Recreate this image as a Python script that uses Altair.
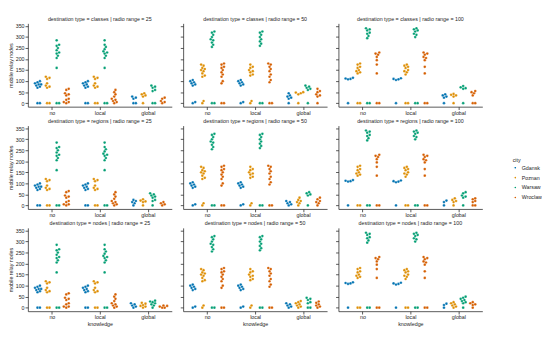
import altair as alt
import pandas as pd

CITIES = ["Gdansk", "Poznan", "Warsaw", "Wroclaw"]
COLORS = ["#0173b2", "#de8f05", "#029e73", "#d55e00"]
KNOWLEDGE = ["no", "local", "global"]
DESTS = ["classes", "regions", "nodes"]
RADIOS = [25, 50, 100]

# knowledge = no / local (nearly identical for all destination types)
R25_NO = {
    "Gdansk": [0, 0, 70, 75, 80, 85, 85, 90, 95, 100],
    "Poznan": [0, 0, 70, 75, 80, 90, 110, 115, 120],
    "Warsaw": [0, 0, 160, 205, 215, 225, 230, 240, 250, 260, 265, 285],
    "Wroclaw": [0, 5, 5, 15, 20, 35, 40, 45, 60, 65],
}
R25_LOCAL = {
    "Gdansk": [0, 0, 70, 75, 80, 85, 90, 95, 100],
    "Poznan": [0, 0, 70, 75, 80, 90, 110, 115, 120],
    "Warsaw": [0, 0, 160, 205, 215, 225, 230, 235, 245, 255, 265, 285],
    "Wroclaw": [0, 5, 10, 15, 20, 30, 40, 50, 60],
}
R50_NO = {
    "Gdansk": [0, 5, 80, 85, 90, 95, 100, 105],
    "Poznan": [0, 10, 120, 125, 135, 145, 150, 155, 160, 170, 175],
    "Warsaw": [0, 0, 255, 265, 275, 285, 290, 300, 310, 320, 325],
    "Wroclaw": [0, 0, 90, 100, 120, 130, 140, 150, 160, 165, 175, 180],
}
R50_LOCAL = {
    "Gdansk": [0, 5, 80, 85, 90, 95, 100, 105],
    "Poznan": [0, 10, 125, 130, 140, 145, 150, 160, 165, 175],
    "Warsaw": [0, 0, 260, 270, 280, 290, 300, 310, 320, 325],
    "Wroclaw": [0, 0, 95, 105, 120, 130, 145, 155, 165, 175, 180],
}
R100_NO = {
    "Gdansk": [0, 108, 110, 112, 115],
    "Poznan": [0, 0, 135, 140, 145, 150, 160, 165, 175, 180],
    "Warsaw": [0, 0, 295, 305, 315, 320, 330, 335, 340],
    "Wroclaw": [0, 0, 135, 175, 195, 210, 220, 225, 230],
}
R100_LOCAL = {
    "Gdansk": [0, 105, 108, 110, 113],
    "Poznan": [0, 0, 130, 140, 145, 150, 160, 165, 170, 175],
    "Warsaw": [0, 0, 300, 310, 315, 325, 330, 335, 340],
    "Wroclaw": [0, 0, 135, 165, 195, 205, 210, 220, 225, 230],
}

# knowledge = global, per destination type
CLASSES_GLOBAL = {
    25: {"Gdansk": [0, 0, 20, 25, 30], "Poznan": [0, 30, 35, 40, 45],
         "Warsaw": [0, 0, 55, 60, 70, 75, 80], "Wroclaw": [0, 5, 10, 20, 25]},
    50: {"Gdansk": [0, 20, 25, 30, 35, 45], "Poznan": [0, 40, 45, 48, 50],
         "Warsaw": [0, 60, 65, 70, 75, 80], "Wroclaw": [0, 30, 35, 40, 50, 55, 65]},
    100: {"Gdansk": [0, 25, 30, 35, 40], "Poznan": [0, 30, 35, 38, 42],
          "Warsaw": [0, 65, 68, 72, 78], "Wroclaw": [0, 0, 35, 45, 50, 55]},
}
REGIONS_GLOBAL = {
    25: {"Gdansk": [0, 10, 15, 20, 25], "Poznan": [0, 15, 18, 22, 28],
         "Warsaw": [0, 20, 25, 35, 40, 45, 50, 55], "Wroclaw": [0, 5, 10, 15]},
    50: {"Gdansk": [0, 5, 10, 15, 20], "Poznan": [0, 10, 15, 20, 25, 35],
         "Warsaw": [0, 45, 50, 55, 60], "Wroclaw": [0, 10, 15, 20, 28, 35]},
    100: {"Gdansk": [0, 15, 22], "Poznan": [0, 15, 20, 25, 32],
          "Warsaw": [0, 35, 40, 45, 55, 60], "Wroclaw": [0, 0, 15, 20, 28, 32]},
}
NODES_GLOBAL = {
    25: {"Gdansk": [0, 5, 10, 15, 20], "Poznan": [0, 5, 8, 12, 18, 22],
         "Warsaw": [0, 10, 15, 20, 25, 28, 32], "Wroclaw": [0, 0, 5, 8, 10]},
    50: {"Gdansk": [0, 5, 10, 15, 20], "Poznan": [0, 5, 10, 15, 20, 25, 30],
         "Warsaw": [0, 0, 20, 25, 35, 40, 45], "Wroclaw": [0, 5, 10, 15, 22, 28]},
    100: {"Gdansk": [0, 12, 18], "Poznan": [0, 5, 10, 15, 20, 25],
          "Warsaw": [0, 20, 25, 30, 35, 40, 45, 50], "Wroclaw": [0, 12, 15, 20, 25]},
}

NO_BY_RADIO = {25: R25_NO, 50: R50_NO, 100: R100_NO}
LOCAL_BY_RADIO = {25: R25_LOCAL, 50: R50_LOCAL, 100: R100_LOCAL}
GLOBAL_BY_DEST = {"classes": CLASSES_GLOBAL, "regions": REGIONS_GLOBAL, "nodes": NODES_GLOBAL}

W, H = 152, 88
YDOM = [-16, 362]
PX_X = W / 3.0
PX_Y = H / (YDOM[1] - YDOM[0])
DIAM = 2.6


def swarm(vals):
    """Beeswarm horizontal offsets (in x data units) for one group."""
    placed = []
    out = []
    for v in sorted(vals):
        yp = v * PX_Y
        cands = [0.0]
        for i in range(1, 30):
            cands += [i * DIAM * 0.5, -i * DIAM * 0.5]
        for c in cands:
            if all((c - px) ** 2 + (yp - py) ** 2 >= (DIAM * 0.9) ** 2 for px, py in placed):
                placed.append((c, yp))
                out.append((v, c / PX_X))
                break
    return out


rows = []
for d in DESTS:
    for r in RADIOS:
        groups = {"no": NO_BY_RADIO[r], "local": LOCAL_BY_RADIO[r], "global": GLOBAL_BY_DEST[d][r]}
        for ki, k in enumerate(KNOWLEDGE):
            for ci, c in enumerate(CITIES):
                for v, off in swarm(groups[k][c]):
                    rows.append({"dest": d, "radio": r, "knowledge": k, "city": c,
                                 "value": v, "xpos": ki + (ci - 1.5) * 0.2 + off})
df = pd.DataFrame(rows)

FONT = "Liberation Sans"
FS = 5.6


def panel(d, r, left, bottom):
    return alt.Chart(df).transform_filter(
        (alt.datum.dest == d) & (alt.datum.radio == r)
    ).mark_circle(size=8, opacity=1, stroke="white", strokeWidth=0.25).encode(
        x=alt.X("xpos:Q", scale=alt.Scale(domain=[-0.5, 2.5], nice=False, zero=False),
                axis=alt.Axis(values=[0, 1, 2], labelExpr="['no','local','global'][datum.value]",
                              title="knowledge" if bottom else None, grid=False)),
        y=alt.Y("value:Q", scale=alt.Scale(domain=YDOM, nice=False, zero=False),
                axis=alt.Axis(values=list(range(0, 351, 50)), labels=left, grid=False,
                              title="mobile relay nodes" if left else None)),
        color=alt.Color("city:N", scale=alt.Scale(domain=CITIES, range=COLORS),
                        legend=alt.Legend(title="city", orient="none", legendX=512, legendY=142,
                                          symbolType="circle", symbolSize=10, titleFontSize=FS,
                                          labelFontSize=FS, rowPadding=0.5, titlePadding=2,
                                          symbolOffset=0, labelOffset=4,
                                          labelFont=FONT, titleFont=FONT, titleFontWeight="normal",
                                          labelColor="#262626", titleColor="#262626")),
    ).properties(
        width=W, height=H,
        title=alt.TitleParams(f"destination type = {d} | radio range = {r}", fontSize=FS,
                              font=FONT, fontWeight="normal", color="#262626", offset=1),
    )


chart = alt.vconcat(*[
    alt.hconcat(*[panel(d, r, ri == 0, di == 2) for ri, r in enumerate(RADIOS)], spacing=8)
    for di, d in enumerate(DESTS)
], spacing=3).properties(padding=0).configure_view(stroke=None).configure_axis(
    labelFontSize=FS, titleFontSize=FS, labelFont=FONT, titleFont=FONT,
    titleFontWeight="normal", labelColor="#262626", titleColor="#262626",
    domainColor="#262626", tickColor="#262626", domainWidth=0.8, tickWidth=0.8,
    tickSize=3, labelPadding=1, titlePadding=2,
)

chart.save("out.html", embed_options={"renderer": "svg", "actions": False})
